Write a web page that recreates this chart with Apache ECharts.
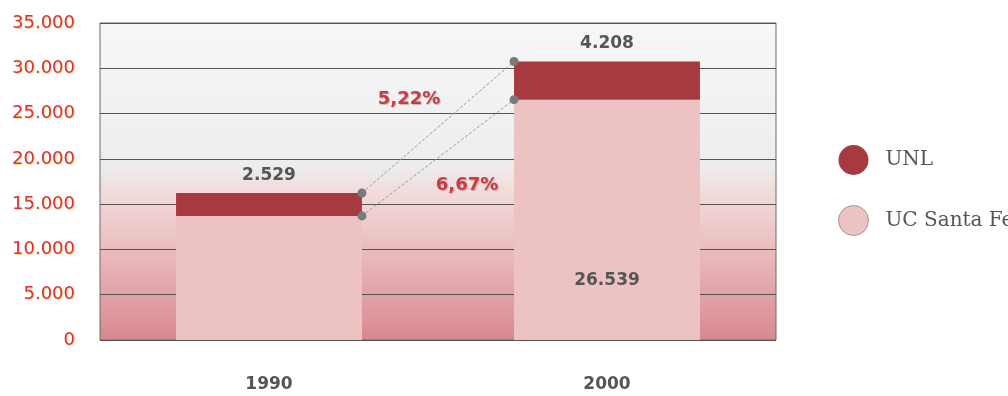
<!DOCTYPE html>
<html><head><meta charset="utf-8">
<script src="https://cdn.jsdelivr.net/npm/echarts@6/dist/echarts.min.js"></script>
<style>html,body{margin:0;padding:0;background:#fff}#c{width:1008px;height:396px}</style>
</head><body><div id="c"></div>
<script>
const categories = ['1990', '2000'];
const ucSantaFe = [13700, 26539];
const unl = [2529, 4208];
const growthUNL = '5,22%';
const growthUC = '6,67%';
const yMin = 0, yMax = 35000, yStep = 5000;

const fmt = v => v === 0 ? '0' : String(v).replace(/\B(?=(\d{3})+(?!\d))/g, '.');
const chart = echarts.init(document.getElementById('c'));
const BAR_FRAC = 0.55;

chart.setOption({
  animation: false,
  grid: {
    left: 100, right: 232, top: 23, bottom: 56, show: true,
    borderColor: '#6a6a6a', borderWidth: 1,
    backgroundColor: new echarts.graphic.LinearGradient(0, 0, 0, 1, [
      {offset: 0, color: '#f7f7f7'},
      {offset: 0.45, color: '#ededed'},
      {offset: 0.53, color: '#f2dcdc'},
      {offset: 0.66, color: '#ecc6c7'},
      {offset: 1, color: '#d9888f'}
    ])
  },
  legend: {
    orient: 'vertical', left: 833, top: 140, itemWidth: 30, itemHeight: 30, itemGap: 30,
    icon: 'circle',
    textStyle: {fontFamily: 'DejaVu Serif', fontSize: 20, color: '#555', padding: [0, 0, 0, 12]},
    data: [
      {name: 'UNL'},
      {name: 'UC Santa Fe', itemStyle: {borderColor: '#999', borderWidth: 1}}
    ]
  },
  xAxis: {
    type: 'category', data: categories,
    axisLine: {show: false}, axisTick: {show: false},
    axisLabel: {margin: 36, fontFamily: 'DejaVu Sans', fontWeight: 'bold', fontSize: 17, color: '#555'}
  },
  yAxis: {
    type: 'value', min: yMin, max: yMax, interval: yStep,
    axisLine: {show: false}, axisTick: {show: false},
    splitLine: {lineStyle: {color: '#555', width: 1}},
    axisLabel: {margin: 25, fontFamily: 'DejaVu Sans', fontSize: 18, color: '#d6323f',
      formatter: fmt, textShadowColor: 'rgba(240,200,60,0.6)', textShadowBlur: 1, textShadowOffsetX: 1, textShadowOffsetY: 1}
  },
  series: [
    {
      name: 'UC Santa Fe', type: 'bar', stack: 's', barWidth: '55%',
      itemStyle: {color: '#edc2c2'},
      data: ucSantaFe.map((v, i) => i === 1 ? {value: v, label: {show: true, position: 'insideBottom', distance: 51,
        formatter: p => fmt(p.value), fontFamily: 'DejaVu Sans', fontWeight: 'bold', fontSize: 17, color: '#555'}} : v)
    },
    {
      name: 'UNL', type: 'bar', stack: 's', barWidth: '55%',
      itemStyle: {color: '#a73a41'},
      label: {show: true, position: 'top', distance: 9, formatter: p => fmt(p.value),
        fontFamily: 'DejaVu Sans', fontWeight: 'bold', fontSize: 17, color: '#555'},
      data: unl
    },
    {
      type: 'custom', silent: true, z: 5,
      data: [[0, 0]],
      renderItem: function (params, api) {
        const half = api.size([1, 0])[0] * BAR_FRAC / 2;
        const t0 = api.coord([0, ucSantaFe[0] + unl[0]]);
        const b0 = api.coord([0, ucSantaFe[0]]);
        const t1 = api.coord([1, ucSantaFe[1] + unl[1]]);
        const b1 = api.coord([1, ucSantaFe[1]]);
        const x0 = t0[0] + half, x1 = t1[0] - half;
        const ls = {stroke: '#9a9a9a', lineWidth: 1, lineDash: [3, 2]};
        const dot = (x, y) => ({type: 'circle', shape: {cx: x, cy: y, r: 4.5}, style: {fill: '#7a7a7a'}});
        const txt = (x, y, s) => ({type: 'text', x: x, y: y, style: {text: s, fill: '#cc3a44',
          font: 'bold 18px "DejaVu Sans"', align: 'center', verticalAlign: 'middle',
          textShadowColor: 'rgba(120,60,60,0.35)', textShadowBlur: 1, textShadowOffsetX: 1, textShadowOffsetY: 1}});
        const mTx = (x0 + x1) / 2, mTy = (t0[1] + t1[1]) / 2, mBy = (b0[1] + b1[1]) / 2;
        return {type: 'group', children: [
          {type: 'line', shape: {x1: x0, y1: t0[1], x2: x1, y2: t1[1]}, style: ls},
          {type: 'line', shape: {x1: x0, y1: b0[1], x2: x1, y2: b1[1]}, style: ls},
          dot(x0, t0[1]), dot(x0, b0[1]), dot(x1, t1[1]), dot(x1, b1[1]),
          txt(mTx - 29, mTy - 28, growthUNL),
          txt(mTx + 29, mBy + 28, growthUC)
        ]};
      }
    }
  ]
});
</script></body></html>
